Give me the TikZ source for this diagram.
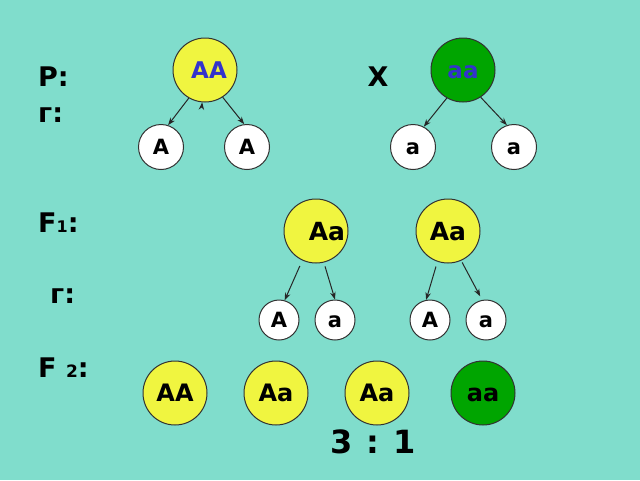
\documentclass[tikz,border=0pt]{standalone}
\usepackage{fontspec}
\setmainfont{DejaVu Sans}
\usetikzlibrary{arrows.meta}
\definecolor{bgc}{RGB}{128,221,204}
\definecolor{yel}{RGB}{240,245,64}
\definecolor{grn}{RGB}{0,165,0}
\definecolor{blu}{RGB}{51,51,204}
\definecolor{edge}{RGB}{50,50,50}
\tikzset{
  big/.style={circle,draw=edge,line width=1,minimum size=64,inner sep=0pt,text height=17.5pt,text depth=0pt,font=\bfseries\fontsize{24}{24}\selectfont},
  gam/.style={circle,draw=edge,fill=white,line width=1,minimum size=45,inner sep=0pt,text height=15.3pt,text depth=0pt,font=\bfseries\fontsize{21}{21}\selectfont},
  gams/.style={gam,minimum size=40},
  lab/.style={anchor=base west,inner sep=0pt,font=\bfseries\fontsize{27}{27}\selectfont},
  arr/.style={draw=black!85,line width=1,-{Stealth[length=7.5,width=5.5]}}
}
\begin{document}
\begin{tikzpicture}[x=1pt,y=-1pt]
\fill[bgc] (0,0) rectangle (640,480);
\useasboundingbox (0,0) rectangle (640,480);
% labels
\node[lab] (P) at (38,86) {P:};
\node[lab] (g1l) at (38,122) {г:};
\node[lab,anchor=base] (X) at (378,86) {X};
\node[lab] (F1) at (38,232) {F{\fontsize{16}{16}\selectfont 1}:};
\node[lab] (g2l) at (50,303) {г:};
\node[lab] (F2) at (38,377) {F {\fontsize{17}{17}\selectfont 2}:};
% parents
\node[big,fill=yel,text=blu,text height=16.8pt,font=\bfseries\fontsize{23}{23}\selectfont] (AA) at (205,70) {\hspace*{8pt}AA};
\node[big,fill=grn,text=blu,text height=16.8pt,font=\bfseries\fontsize{23}{23}\selectfont] (aa) at (463,70) {aa};
\node[gam] (A1) at (161,147) {A};
\node[gam] (A2) at (247,147) {A};
\node[gam] (a1) at (413,147) {a};
\node[gam] (a2) at (514,147) {a};
\draw[arr] (AA.-120) -- (A1.72);
\draw[arr] (AA.-57) -- (A2.97);
\coordinate (tipS) at (202,104);
\draw[arr] (tipS) -- (AA.-95);
\draw[arr] (aa.-120) -- (a1.62);
\draw[arr] (aa.-57) -- (a2.108);
% F1
\node[big,fill=yel] (F1a) at (316,231) {};
\node[inner sep=0pt,font=\bfseries\fontsize{25}{25}\selectfont] (F1at) at (327,232) {Aa};
\node[big,fill=yel,text height=18.2pt,font=\bfseries\fontsize{25}{25}\selectfont] (F1b) at (448,231) {Aa};
\node[gams] (G1) at (279,320) {A};
\node[gams] (G2) at (335,320) {a};
\node[gams] (G3) at (430,320) {A};
\node[gams] (G4) at (486,320) {a};
\draw[arr,shorten <=6] (F1a.-115) -- (G1.74);
\draw[arr,shorten <=4] (F1a.-76) -- (G2.90);
\draw[arr,shorten <=5] (F1b.-109) -- (G3.101);
\draw[arr,shorten <=2,shorten >=4] (F1b.-66) -- (G4.101);
% F2
\node[big,fill=yel] (H1) at (175,393) {AA};
\node[big,fill=yel] (H2) at (276,393) {Aa};
\node[big,fill=yel] (H3) at (377,393) {Aa};
\node[big,fill=grn] (H4) at (483,393) {aa};
\node[anchor=base,inner sep=0pt,font=\bfseries\fontsize{32}{32}\selectfont] (R) at (373,453) {3\hspace{14pt}:\hspace{14pt}1};
\end{tikzpicture}
\end{document}
